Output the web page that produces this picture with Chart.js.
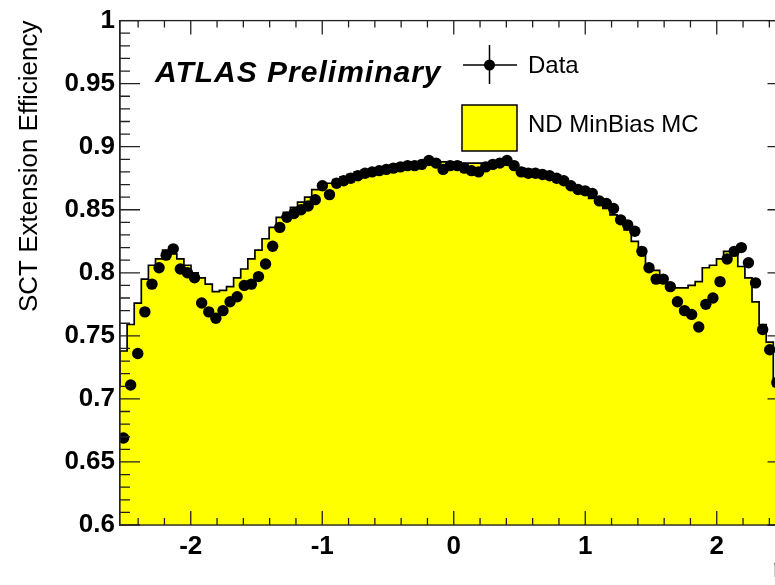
<!DOCTYPE html>
<html>
<head>
<meta charset="utf-8">
<script src="https://cdn.jsdelivr.net/npm/chart.js@4.4.1/dist/chart.umd.min.js"></script>
<style>
  html, body { margin: 0; padding: 0; background: #fff; overflow: hidden; }
  #wrap { width: 775px; height: 585px; overflow: hidden; }
  canvas { display: block; }
</style>
</head>
<body>
<div id="wrap"><canvas id="effChart" width="800" height="585"></canvas></div>
<script>
// eta binning shown on the plot: 94 bins of width 0.054
const nBins = 94;
const etaMin = -2.538;
const etaMax = 2.538;

// measured efficiency (black points), one per bin, left to right
const dataEff = [
  0.669, 0.711, 0.736, 0.769, 0.791, 0.804, 0.814, 0.819, 0.803, 0.800,
  0.796, 0.776, 0.769, 0.764, 0.770, 0.777, 0.781, 0.790, 0.791, 0.797,
  0.807, 0.821, 0.836, 0.844, 0.847, 0.850, 0.853, 0.858, 0.869, 0.862,
  0.871, 0.873, 0.875, 0.877, 0.879, 0.880, 0.881, 0.882, 0.883, 0.884,
  0.885, 0.885, 0.886, 0.889, 0.887, 0.882, 0.885, 0.885, 0.883, 0.881,
  0.880, 0.884, 0.886, 0.887, 0.889, 0.885, 0.880, 0.879, 0.879, 0.878,
  0.877, 0.875, 0.873, 0.869, 0.866, 0.865, 0.863, 0.857, 0.855, 0.851,
  0.842, 0.838, 0.833, 0.817, 0.804, 0.795, 0.795, 0.789, 0.777, 0.770,
  0.767, 0.757, 0.775, 0.780, 0.793, 0.811, 0.817, 0.820, 0.808, 0.792,
  0.755, 0.739, 0.713, 0.670
];

// ND MinBias MC (yellow histogram)
const mcEff = [
  0.709, 0.738, 0.759, 0.776, 0.795, 0.806, 0.811, 0.818, 0.815, 0.811,
  0.806, 0.800, 0.796, 0.791, 0.785, 0.786, 0.789, 0.796, 0.803, 0.811,
  0.818, 0.827, 0.836, 0.844, 0.848, 0.852, 0.856, 0.860, 0.866, 0.868,
  0.871, 0.874, 0.876, 0.878, 0.880, 0.881, 0.882, 0.883, 0.884, 0.885,
  0.886, 0.886, 0.887, 0.888, 0.889, 0.888, 0.888, 0.888, 0.888, 0.887,
  0.887, 0.887, 0.887, 0.888, 0.888, 0.887, 0.885, 0.883, 0.882, 0.880,
  0.879, 0.877, 0.875, 0.872, 0.869, 0.866, 0.863, 0.859, 0.855, 0.851,
  0.846, 0.840, 0.834, 0.825, 0.815, 0.806, 0.802, 0.792, 0.791, 0.788,
  0.788, 0.790, 0.793, 0.804, 0.806, 0.811, 0.817, 0.819, 0.805, 0.796,
  0.777, 0.759, 0.745, 0.710
];

const xTickValues = [-2, -1, 0, 1, 2];
const yTickValues = [0.6, 0.65, 0.7, 0.75, 0.8, 0.85, 0.9, 0.95, 1];

const binWidth = (etaMax - etaMin) / nBins;
const binCenters = dataEff.map((_, i) => etaMin + binWidth * (i + 0.5));
// histogram outline: one step per bin, closed at the last edge
const mcSteps = mcEff.map((v, i) => ({ x: etaMin + binWidth * i, y: v }));
mcSteps.push({ x: etaMax, y: mcEff[mcEff.length - 1] });

const FONT = "'Liberation Sans', Arial, Helvetica, sans-serif";

const frameDecor = {
  id: 'frameDecor',
  afterDatasetsDraw(chart) {
    const { ctx, chartArea: a, scales: { x, y } } = chart;
    ctx.save();
    ctx.strokeStyle = '#222';
    ctx.lineWidth = 1.3;
    ctx.beginPath();
    for (let k = -12; k <= 12; k++) {
      const px = x.getPixelForValue(k * 0.2);
      const len = k % 5 === 0 ? 14 : 7;
      ctx.moveTo(px, a.bottom); ctx.lineTo(px, a.bottom - len);
      ctx.moveTo(px, a.top); ctx.lineTo(px, a.top + len);
    }
    for (let k = 60; k <= 100; k++) {
      const py = y.getPixelForValue(k / 100);
      const len = k % 5 === 0 ? 20 : 10;
      ctx.moveTo(a.left, py); ctx.lineTo(a.left + len, py);
      ctx.moveTo(a.right, py); ctx.lineTo(a.right - len, py);
    }
    ctx.stroke();
    ctx.strokeRect(a.left, a.top, a.right - a.left, a.bottom - a.top);

    // ATLAS label
    ctx.fillStyle = '#000';
    ctx.font = 'italic bold 30px ' + FONT;
    ctx.textBaseline = 'alphabetic';
    ctx.letterSpacing = '1px';
    ctx.fillText('ATLAS Preliminary', 155, 82);
    ctx.letterSpacing = '0px';

    // legend
    const ds = chart.data.datasets;
    ctx.lineWidth = 1.5;
    ctx.strokeStyle = '#000';
    ctx.beginPath();
    ctx.moveTo(463, 65); ctx.lineTo(517, 65);
    ctx.moveTo(489.5, 45); ctx.lineTo(489.5, 84);
    ctx.stroke();
    ctx.beginPath();
    ctx.arc(489.5, 65, 5.5, 0, Math.PI * 2);
    ctx.fill();
    ctx.fillStyle = ds[1].backgroundColor;
    ctx.fillRect(462, 105, 55, 46);
    ctx.strokeRect(462, 105, 55, 46);
    ctx.fillStyle = '#000';
    ctx.font = '24px ' + FONT;
    ctx.fillText(ds[0].label, 528, 73);
    ctx.fillText(ds[1].label, 528, 132);
    ctx.restore();
  }
};

const ctx = document.getElementById('effChart');
new Chart(ctx, {
  type: 'line',
  data: {
    datasets: [
      {
        label: 'Data',
        data: binCenters.map((x, i) => ({ x: x, y: dataEff[i] })),
        showLine: false,
        pointRadius: 5.7,
        pointHoverRadius: 5.7,
        pointBackgroundColor: '#000',
        pointBorderColor: '#000',
        pointBorderWidth: 0,
        order: 0
      },
      {
        label: 'ND MinBias MC',
        data: mcSteps,
        stepped: 'after',
        borderColor: '#000',
        borderWidth: 1.7,
        backgroundColor: '#ffff00',
        fill: 'start',
        pointRadius: 0,
        order: 1
      }
    ]
  },
  options: {
    responsive: false,
    animation: false,
    layout: { padding: { top: 19, right: 12.5, left: 0, bottom: 0 } },
    plugins: { legend: { display: false }, tooltip: { enabled: false } },
    scales: {
      x: {
        type: 'linear',
        min: etaMin,
        max: etaMax,
        afterFit: s => { s.height = 60; },
        afterBuildTicks: s => { s.ticks = xTickValues.map(v => ({ value: v })); },
        grid: { display: true, drawOnChartArea: false, drawTicks: false },
        border: { display: true, color: '#222', width: 1.3 },
        ticks: {
          padding: 6,
          color: '#000',
          maxRotation: 0,
          font: { family: FONT, size: 26, weight: 'bold' },
          callback: v => String(v)
        },
        title: {
          display: true,
          text: 'η',
          align: 'end',
          color: '#000',
          font: { family: FONT, size: 26 },
          padding: { top: 0, bottom: 0 }
        }
      },
      y: {
        min: 0.6,
        max: 1,
        afterFit: s => { s.width = 120; },
        afterBuildTicks: s => { s.ticks = yTickValues.map(v => ({ value: v })); },
        grid: { display: true, drawOnChartArea: false, drawTicks: false },
        border: { display: true, color: '#222', width: 1.3 },
        ticks: {
          padding: 5,
          color: '#000',
          font: { family: FONT, size: 26, weight: 'bold' },
          callback: v => String(+v.toFixed(2))
        },
        title: {
          display: true,
          text: 'SCT Extension Efficiency',
          align: 'end',
          color: '#000',
          font: { family: FONT, size: 26 },
          padding: { top: 14, bottom: 0 }
        }
      }
    }
  },
  plugins: [frameDecor]
});
</script>
</body>
</html>
